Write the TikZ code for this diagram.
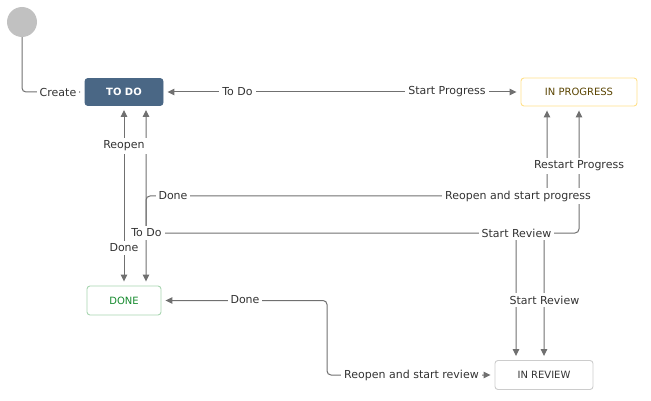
\documentclass[tikz,border=0pt]{standalone}
\usepackage{fontspec}
\setmainfont{DejaVu Sans}
\usetikzlibrary{arrows.meta}
\definecolor{linegray}{HTML}{707070}
\definecolor{labelgray}{HTML}{333333}
\definecolor{startgray}{HTML}{C1C1C1}
\definecolor{todoblue}{HTML}{4A6785}
\definecolor{progborder}{HTML}{FFE08A}
\definecolor{progtext}{HTML}{594300}
\definecolor{doneborder}{HTML}{A8D5B1}
\definecolor{donetext}{HTML}{14892C}
\definecolor{revborder}{HTML}{CCCCCC}

\begin{document}
\begin{tikzpicture}[x=1pt,y=-1pt,state/.style={draw,rounded corners=3pt,line width=0.9pt,minimum height=28pt,inner sep=0pt,font=\fontsize{10}{12}\selectfont},flow/.style={draw=linegray,line width=1pt,rounded corners=4pt,shorten >=4pt,shorten <=4pt,>={Triangle[length=7pt,width=6.5pt]}},tlabel/.style={fill=white,text=labelgray,inner xsep=3pt,inner ysep=2.5pt,font=\fontsize{11}{13}\selectfont}]
\useasboundingbox (0,0) rectangle (651,401);
\node[circle,fill=startgray,minimum size=30pt,inner sep=0pt] (start) at (22,22) {};
\node[state,fill=todoblue,draw=todoblue,text=white,font=\fontsize{10}{12}\selectfont\bfseries,minimum width=78pt,minimum height=27pt] (todo) at (124,92) {TO DO};
\node[state,draw=progborder,text=progtext,minimum width=116pt] (inprog) at (579,92) {IN PROGRESS};
\node[state,draw=doneborder,text=donetext,minimum width=74pt,minimum height=29pt] (done) at (124,300.5) {DONE};
\node[state,draw=revborder,text=labelgray,minimum width=98pt,minimum height=29pt] (review) at (544,375) {IN REVIEW};
\coordinate (bendA) at (146,196);
\coordinate (bendB) at (516,233);
\coordinate (bendC) at (544,233);
\coordinate (bendD) at (327,375);
\draw[flow,-{Triangle[length=5pt,width=5pt]},shorten <=0pt] (start.south) |- (todo.west);
\draw[flow,<->] (todo.east) -- (inprog.west);
\draw[flow,<->] (todo.south) -- (done.north);
\draw[flow,<->] ([xshift=22pt]todo.south) |- (bendB) -- ([xshift=-28pt]review.north);
\draw[flow,<->] ([xshift=-32pt]inprog.south) |- (bendA) -- ([xshift=22pt]done.north);
\draw[flow,<->] (inprog.south) |- (bendC) -- (review.north);
\draw[flow,<->] (done.east) -| (bendD) -- (review.west);
\node[tlabel] (lcreate) at (58,92) {Create};
\node[tlabel] (ltodo) at (237.5,92) {To Do};
\node[tlabel] (lstartprog) at (447,92) {Start Progress};
\node[tlabel] (lreopen) at (124,146) {Reopen};
\node[tlabel] (ldone) at (124,248) {Done};
\node[tlabel] (ldonetwo) at (173,196) {Done};
\node[tlabel] (lreopenprog) at (518,196) {Reopen and start progress};
\node[tlabel] (ltodotwo) at (146.5,233) {To Do};
\node[tlabel] (lstartrev) at (516.5,233) {Start Review};
\node[tlabel] (lrestart) at (579,166) {Restart Progress};
\node[tlabel] (lstartrevtwo) at (544.5,300) {Start Review};
\node[tlabel] (ldonethree) at (245,300) {Done};
\node[tlabel] (lreopenrev) at (411.5,375) {Reopen and start review};
\end{tikzpicture}
\end{document}
